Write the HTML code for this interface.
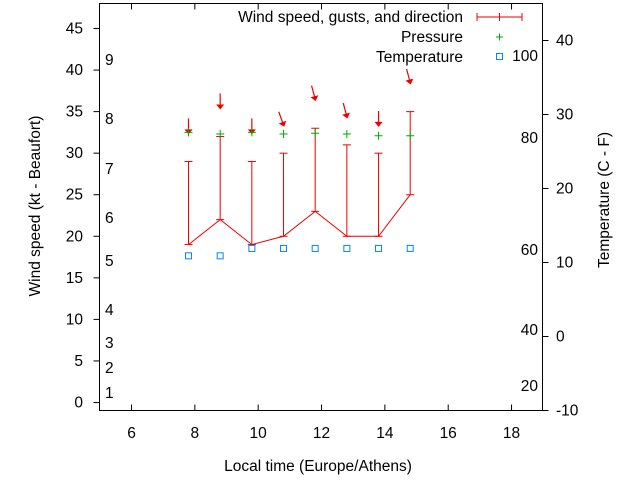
<!DOCTYPE html>
<html><head><meta charset="utf-8"><style>
body{margin:0;background:#fff}
svg text{font-family:"Liberation Sans",sans-serif;font-size:15.5px;fill:#000}
</style></head><body>
<svg width="640" height="480">
<g id="axes"></g><g id="plot"></g>
</svg>
<script>
const times=[7.8,8.8,9.8,10.8,11.8,12.8,13.8,14.8];
const wind=[19,22,19,20,23,20,20,25];
const gusts=[29,32,29,30,33,31,30,35];
const pressure=[32.5,32.3,32.5,32.3,32.4,32.3,32.1,32.1];
const tempC=[10.9,10.9,11.9,11.9,11.9,11.9,11.9,11.9];
const arrowY=[32.5,35.5,32.5,33.4,36.5,34.4,33.4,38.5];
const arrowDir=[0,0,0,20,15,15,0,15];
const xTicks=[6,8,10,12,14,16,18];
const yTicks=[0,5,10,15,20,25,30,35,40,45];
const tTicks=[-10,0,10,20,30,40];
const beaufort=[[1,393],[2,368],[3,343],[4,310],[5,261],[6,218],[7,169],[8,119],[9,60]];
const fahr=[[100,56],[80,138],[60,250],[40,330],[20,386]];
const L=99.5,R=542.5,T=3.5,B=410.5;
const X=h=>131.5+(h-6)*31.67;
const Y=v=>402.5-v*8.311;
const TY=c=>336.5-c*7.4;
const NS='http://www.w3.org/2000/svg';
function mk(tag,at,parent,txt){const e=document.createElementNS(NS,tag);for(const k in at)e.setAttribute(k,at[k]);if(txt!==undefined)e.textContent=txt;parent.appendChild(e);return e;}
const ax=document.getElementById('axes'),pl=document.getElementById('plot');
let f=mk('rect',{x:L,y:T,width:R-L,height:B-T,fill:'none',stroke:'#000'},ax);


xTicks.forEach(h=>{
 mk('line',{x1:X(h),x2:X(h),y1:B,y2:B-6,stroke:'#000'},ax);
 mk('line',{x1:X(h),x2:X(h),y1:T,y2:T+6,stroke:'#000'},ax);
 let t=mk('text',{x:X(h),y:438,'text-anchor':'middle'},ax,h);
 
 
});
yTicks.forEach(v=>{
 mk('line',{x1:L,x2:L-6,y1:Y(v),y2:Y(v),stroke:'#000'},ax);
 let t=mk('text',{x:83,y:Y(v)+5,'text-anchor':'end'},ax,v);
 
 
});
tTicks.forEach(c=>{
 mk('line',{x1:R,x2:R+6,y1:TY(c),y2:TY(c),stroke:'#000'},ax);
 let t=mk('text',{x:556,y:TY(c)+5},ax,c);
 
 
});
beaufort.forEach(b=>{
 let t=mk('text',{x:105,y:b[1]+5},ax,b[0]);
 
 
});
fahr.forEach(b=>{
 let t=mk('text',{x:538,y:b[1]+5,'text-anchor':'end'},ax,b[0]);
 
 
});
let xt=mk('text',{x:318,y:471,'text-anchor':'middle'},ax,'Local time (Europe/Athens)');


let yt=mk('text',{x:40,y:206,'text-anchor':'middle',transform:'rotate(-90 40 206)'},ax,'Wind speed (kt - Beaufort)');


let y2=mk('text',{x:609,y:200,'text-anchor':'middle',transform:'rotate(-90 609 200)'},ax,'Temperature (C - F)');


[['Wind speed, gusts, and direction',17],['Pressure',37],['Temperature',57]].forEach(l=>{
 let t=mk('text',{x:463,y:l[1]+5,'text-anchor':'end'},ax,l[0]);
 
 
});
mk('line',{x1:477,x2:522,y1:17,y2:17,stroke:'#e00'},ax);
[477,499.5,522].forEach(x=>mk('line',{x1:x,x2:x,y1:13,y2:21,stroke:'#e00'},ax));
mk('path',{d:'M496 37h7M499.5 33.5v7',stroke:'#0a0'},ax);
mk('rect',{x:496.5,y:53.5,width:6,height:6,fill:'none',stroke:'#08f'},ax);
let pts=times.map((t,i)=>X(t)+','+Y(wind[i])).join(' ');
let wl=mk('polyline',{points:pts,fill:'none',stroke:'#e00'},pl);


times.forEach((t,i)=>{
 const x=X(t);
 let g=mk('line',{x1:x,x2:x,y1:Y(wind[i]),y2:Y(gusts[i]),stroke:'#e00'},pl);
 
 
 mk('line',{x1:x-4,x2:x+4,y1:Y(gusts[i]),y2:Y(gusts[i]),stroke:'#e00'},pl);
 mk('line',{x1:x-4,x2:x+4,y1:Y(wind[i]),y2:Y(wind[i]),stroke:'#e00'},pl);
 const hy=Y(arrowY[i]),a=arrowDir[i]*Math.PI/180;
 const tx=x-14*Math.sin(a),ty=hy-14*Math.cos(a);
 let ar=mk('g',{},pl);
 
 
 mk('line',{x1:tx,y1:ty,x2:x,y2:hy,stroke:'#e00','stroke-width':1.2},ar);
 mk('polygon',{points:`${x},${hy+2} ${x-4},${hy-3} ${x+4},${hy-3}`,fill:'#e00',transform:`rotate(${-arrowDir[i]} ${x} ${hy})`},ar);
 let p=mk('path',{d:`M${x-4} ${Y(pressure[i])}h8M${x} ${Y(pressure[i])-4}v8`,stroke:'#0a0'},pl);
 
 
 let s=mk('rect',{x:x-3,y:TY(tempC[i])-3,width:6,height:6,fill:'none',stroke:'#08f'},pl);
 
 
});
</script>
</body></html>
